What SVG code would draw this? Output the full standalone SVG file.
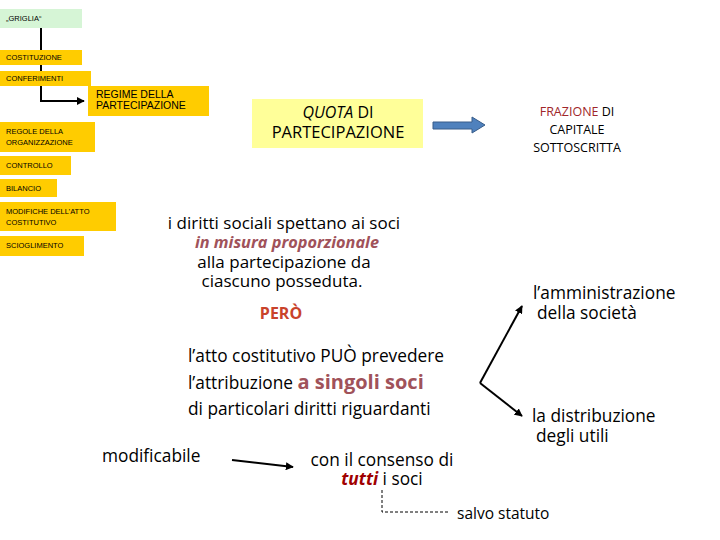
<svg xmlns="http://www.w3.org/2000/svg" width="720" height="540" viewBox="0 0 720 540">
<defs>
<style>
.box{fill:#ffcc00}
.sm{font-family:"Liberation Sans",Arial,sans-serif;font-size:7.5px;fill:#000}
.t{font-family:"Open Sans","Liberation Sans",sans-serif}
.c{text-anchor:middle}
.red{fill:#a0525a;font-weight:bold}
.ln{stroke:#000;stroke-width:2;fill:none}
</style>
<marker id="ah" viewBox="0 0 10 10" refX="9" refY="5" markerWidth="4" markerHeight="4" orient="auto"><path d="M0,0L10,5L0,10z" fill="#000"/></marker>
</defs>
<rect width="720" height="540" fill="#fff"/>
<g id="connectors">
<path class="ln" d="M41,28V50M41,65V71M41,86V101H84" marker-end="url(#ah)"/>
<path d="M433,122H472V117L485,125L472,133V129H433Z" fill="#4f81bd" stroke="#385d8a" stroke-width="1"/>
<path class="ln" d="M232,460L293,467" marker-end="url(#ah)"/>
<path class="ln" d="M480,383L522,306" marker-end="url(#ah)"/>
<path class="ln" d="M480,383L522,416" marker-end="url(#ah)"/>
<path d="M382,490V512H449" stroke="#000" stroke-width="1" stroke-dasharray="3,2" fill="none"/>
</g>
<g id="griglia"><rect x="0" y="9" width="82" height="19" fill="#d6f5d6"/><text class="sm" x="6" y="21">„GRIGLIA“</text></g>
<g id="costituzione"><rect class="box" x="0" y="50" width="82" height="15"/><text class="sm" x="6" y="60">COSTITUZIONE</text></g>
<g id="conferimenti"><rect class="box" x="0" y="71" width="91" height="15"/><text class="sm" x="6" y="81">CONFERIMENTI</text></g>
<g id="regime"><rect class="box" x="88" y="86" width="121" height="30"/><text font-family="Liberation Sans,Arial,sans-serif" font-size="10.5" x="96" y="98">REGIME DELLA</text><text font-family="Liberation Sans,Arial,sans-serif" font-size="10.5" x="96" y="109">PARTECIPAZIONE</text></g>
<g id="regole"><rect class="box" x="0" y="122" width="95" height="30"/><text class="sm" x="6" y="134">REGOLE DELLA</text><text class="sm" x="6" y="145">ORGANIZZAZIONE</text></g>
<g id="controllo"><rect class="box" x="0" y="156" width="71" height="19"/><text class="sm" x="6" y="168">CONTROLLO</text></g>
<g id="bilancio"><rect class="box" x="0" y="179" width="57" height="18"/><text class="sm" x="6" y="191">BILANCIO</text></g>
<g id="modifiche"><rect class="box" x="0" y="202" width="116" height="29"/><text class="sm" x="6" y="214">MODIFICHE DELL’ATTO</text><text class="sm" x="6" y="225">COSTITUTIVO</text></g>
<g id="scioglimento"><rect class="box" x="0" y="236" width="84" height="20"/><text class="sm" x="6" y="248">SCIOGLIMENTO</text></g>
<g id="quota"><rect x="252" y="99" width="171" height="49" fill="#ffff99"/><text class="t c" x="338" y="118" font-size="16"><tspan font-style="italic">QUOTA</tspan> DI</text><text class="t c" x="338" y="138" font-size="16.5">PARTECIPAZIONE</text></g>
<g id="frazione"><text class="t c" x="577" y="116" font-size="12.5"><tspan fill="#a0262a">FRAZIONE</tspan> DI</text><text class="t c" x="577" y="134" font-size="12.5">CAPITALE</text><text class="t c" x="577" y="152" font-size="12.5">SOTTOSCRITTA</text></g>
<g id="diritti">
<text class="t c" x="284" y="229" font-size="17">i diritti sociali spettano ai soci</text>
<text class="t c red" x="287" y="248" font-size="16.3" font-style="italic">in misura proporzionale</text>
<text class="t c" x="284" y="268" font-size="17">alla partecipazione da</text>
<text class="t c" x="282" y="287" font-size="17">ciascuno posseduta.</text>
<text class="t c" x="281" y="319" font-size="16" style="font-weight:bold;fill:#c9432b">PERÒ</text>
</g>
<g id="atto">
<text class="t" x="188" y="362" font-size="17.3">l’atto costitutivo PUÒ prevedere</text>
<text class="t" x="188" y="389" font-size="17.3">l’attribuzione <tspan class="red" font-size="20">a singoli soci</tspan></text>
<text class="t" x="188" y="415" font-size="17.3">di particolari diritti riguardanti</text>
</g>
<g id="amministrazione"><text class="t" x="533" y="299" font-size="17.3">l’amministrazione</text><text class="t" x="537" y="319" font-size="17.3">della società</text></g>
<g id="distribuzione"><text class="t" x="532" y="422" font-size="17.3">la distribuzione</text><text class="t" x="536" y="442" font-size="17.3">degli utili</text></g>
<g id="modificabile"><text class="t" x="102" y="462" font-size="17.3">modificabile</text></g>
<g id="consenso"><text class="t c" x="382" y="466" font-size="17.3">con il consenso di</text><text class="t c" x="382" y="485" font-size="17.3"><tspan font-weight="bold" font-style="italic" fill="#a00000">tutti</tspan> i soci</text></g>
<g id="salvo"><text class="t" x="457" y="519" font-size="15.5">salvo statuto</text></g>
</svg>
